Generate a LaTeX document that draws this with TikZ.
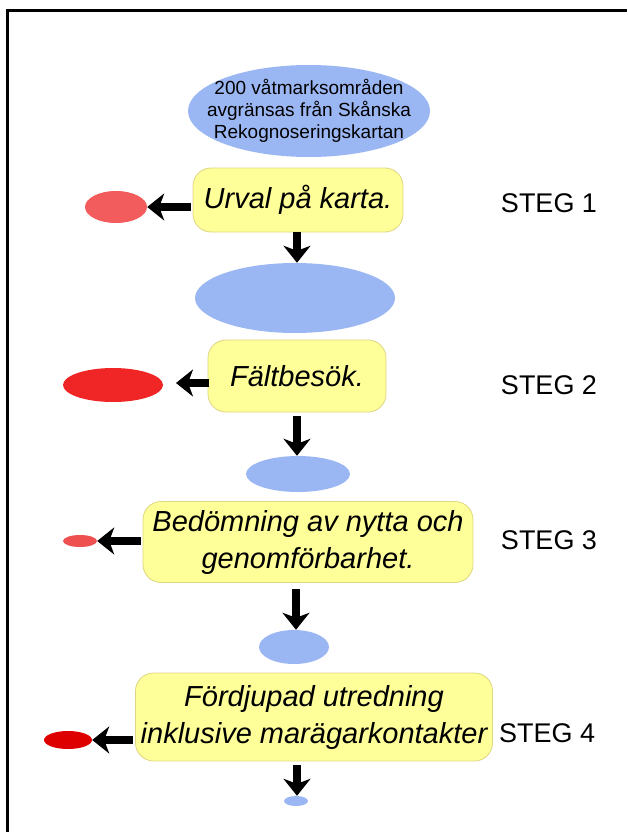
\documentclass[tikz,border=0pt]{standalone}
\usepackage{fontspec}
\setmainfont{Liberation Sans}
\usetikzlibrary{arrows.meta,shapes.geometric}
\definecolor{blueell}{RGB}{155,183,243}
\definecolor{boxfill}{RGB}{255,255,153}
\definecolor{boxline}{RGB}{222,214,130}
\definecolor{redA}{RGB}{242,92,92}
\definecolor{redB}{RGB}{240,38,38}
\definecolor{redC}{RGB}{238,80,80}
\definecolor{redD}{RGB}{222,0,0}
\tikzset{
  blueoval/.style={ellipse, fill=blueell, draw=none, inner sep=0pt},
  redoval/.style={ellipse, draw=none, inner sep=0pt},
  stepbox/.style={rounded corners=18pt, fill=boxfill, draw=boxline, line width=0.8pt,
    inner sep=0pt, align=center, font=\fontsize{29}{37}\selectfont\itshape},
  steglabel/.style={font=\fontsize{27}{32}\selectfont, anchor=center, inner sep=0pt},
  bigarrow/.style={line width=8pt, -{Stealth[length=17pt,width=27pt,inset=5pt]}},
}
\begin{document}
\begin{tikzpicture}[x=1pt,y=-1pt]
\useasboundingbox (0,0) rectangle (627,832);
\fill[white] (0,0) rectangle (627,832);
\draw[line width=2.5pt] (7.5,832) -- (7.5,10.5) -- (627,10.5);

% top ellipse
\node[blueoval, minimum width=242pt, minimum height=92pt] (e0) at (309,111) {};
\node[align=center, inner sep=0pt, font=\fontsize{19}{22}\selectfont] (t0) at (e0.center)
  {200 våtmarksområden\\avgränsas från Skånska\\Rekognoseringskartan};

% step 1
\node[stepbox, minimum width=210pt, minimum height=64pt] (b1) at (298,200) {Urval på karta.};
\node[redoval, fill=redA, minimum width=62pt, minimum height=32pt] (r1) at (116,207) {};
\coordinate (l1s) at (191,207);
\draw[bigarrow] (l1s) -- (r1.east);
\node[steglabel] (s1) at (549,203) {STEG 1};
\node[blueoval, minimum width=200pt, minimum height=70pt] (e1) at (295,298) {};
\draw[bigarrow] (b1.south -| 297,0) -- (e1.north -| 297,0);

% step 2
\node[stepbox, minimum width=178pt, minimum height=72pt] (b2) at (297,376) {Fältbesök.};
\node[redoval, fill=redB, minimum width=100pt, minimum height=34pt] (r2) at (113,385) {};
\coordinate (l2s) at (209,383);
\coordinate (l2e) at (176,383);
\draw[bigarrow] (l2s) -- (l2e);
\node[steglabel] (s2) at (549,385) {STEG 2};
\node[blueoval, minimum width=104pt, minimum height=36pt] (e2) at (298,474) {};
\draw[bigarrow] (b2.south -| 297,0) ++(0,4) -- (e2.north -| 297,0);

% step 3
\node[stepbox, minimum width=330pt, minimum height=81pt] (b3) at (308,542)
  {Bedömning av nytta och\\genomförbarhet.};
\node[redoval, fill=redC, minimum width=34pt, minimum height=12pt] (r3) at (80,541) {};
\coordinate (l3s) at (141,541);
\draw[bigarrow] (l3s) -- (r3.east);
\node[steglabel] (s3) at (549,540) {STEG 3};
\node[blueoval, minimum width=70pt, minimum height=34pt] (e3) at (294,647) {};
\draw[bigarrow] (b3.south -| 296,0) ++(0,6) -- (e3.north -| 296,0);

% step 4
\node[stepbox, minimum width=357pt, minimum height=88pt] (b4) at (314,717)
  {Fördjupad utredning\\inklusive marägarkontakter};
\node[redoval, fill=redD, minimum width=48pt, minimum height=18pt] (r4) at (68,740) {};
\coordinate (l4s) at (133,740);
\draw[bigarrow] (l4s) -- (r4.east);
\node[steglabel, anchor=west] (s4) at (499,733) {STEG 4};
\node[blueoval, minimum width=24pt, minimum height=10pt] (e4) at (296,801) {};
\draw[bigarrow] (b4.south -| 297,0) ++(0,4) -- (e4.north -| 297,0);
\end{tikzpicture}
\end{document}
